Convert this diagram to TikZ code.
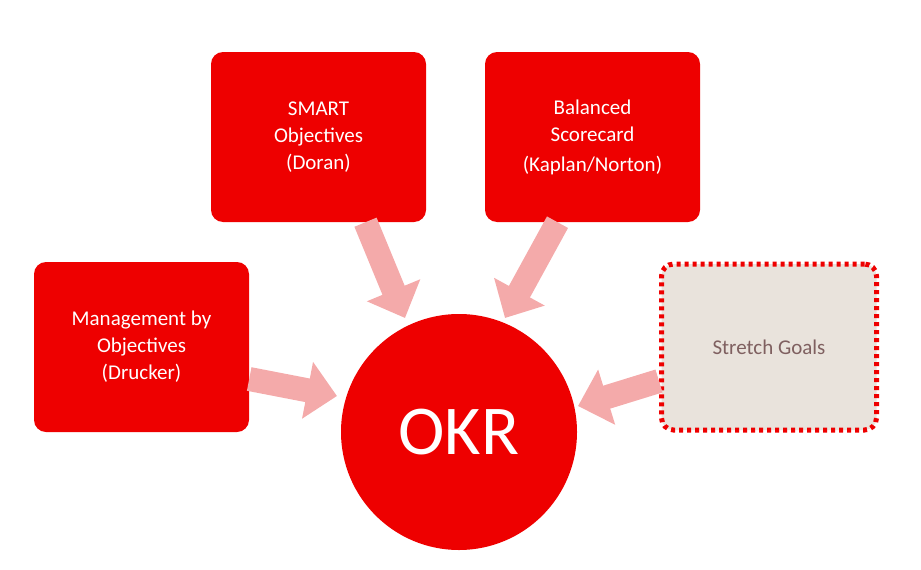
\documentclass[tikz,border=0pt]{standalone}
\usepackage{fontspec}
\setmainfont{Carlito}
\usetikzlibrary{arrows.meta}
\definecolor{okrred}{HTML}{EE0000}
\definecolor{arrowpink}{HTML}{F4AAAA}
\definecolor{stretchfill}{HTML}{E9E3DC}
\definecolor{stretchtext}{HTML}{7F6060}

\begin{document}
\begin{tikzpicture}[x=1pt, y=-1pt,
    source/.style={rectangle, rounded corners=12pt, fill=okrred, text=white, minimum width=215pt, minimum height=170pt, align=center, font=\fontsize{21}{27}\selectfont},
    fat/.style={arrowpink, line width=24pt, -{Triangle[length=30pt, width=56pt]}}
]
    \useasboundingbox (0,0) rectangle (921,570);
    % Sources
    \node[source] (smart) at (318.5,137) {SMART\\Objectives\\(Doran)};
    \node[source] (bsc) at (592.5,137) {Balanced\\Scorecard\\[3pt](Kaplan/Norton)};
    \node[source] (mbo) at (141.5,347) {Management by\\Objectives\\(Drucker)};
    \node[source, fill=stretchfill, text=stretchtext, draw=okrred, line width=5pt, dash pattern=on 4pt off 4pt, minimum width=215pt, minimum height=166pt] (stretch) at (769,347) {Stretch Goals};

    % Centre
    \node[circle, fill=okrred, text=white, minimum size=236pt, font=\fontsize{70}{70}\selectfont] (okr) at (459,432) {OKR};

    % Arrow ends
    \coordinate (smarttip) at (405,318);
    \coordinate (bsctip) at (505,318);
    \coordinate (mbotip) at (337,396);
    \coordinate (stretchtip) at (578,406);

    % Connections
    \draw[fat] ([xshift=47pt]smart.south) -- (smarttip);
    \draw[fat] ([xshift=-35pt]bsc.south) -- (bsctip);
    \draw[fat] ([yshift=-32pt]mbo.east) -- (mbotip);
    \draw[fat] ([yshift=-34pt]stretch.west) -- (stretchtip);
\end{tikzpicture}
\end{document}
